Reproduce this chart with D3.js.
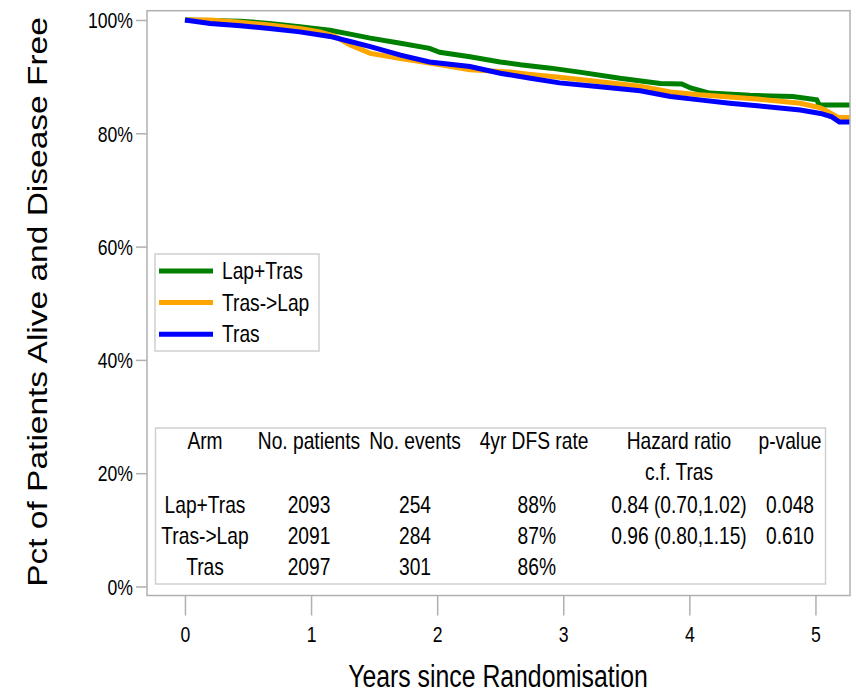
<!DOCTYPE html>
<html>
<head>
<meta charset="utf-8">
<script src="https://cdn.jsdelivr.net/npm/d3@7"></script>
<style>
  html, body { margin: 0; padding: 0; background: #fff; }
  svg { display: block; }
  text { font-family: "Liberation Sans", Arial, sans-serif; fill: #000; }
</style>
</head>
<body>
<svg id="chart" width="856" height="696"></svg>
<script>
// Kaplan-Meier disease-free survival by arm (years, percent alive and disease free)
const arms = ["Lap+Tras", "Tras->Lap", "Tras"];

const lapTrasYears = [0, 0.44, 0.67, 0.91, 1.15, 1.31, 1.47, 1.71, 1.94, 2.02, 2.26, 2.50, 2.66, 2.90, 3.13, 3.45, 3.77, 3.94, 4.01, 4.16, 4.48, 4.82, 5.01, 5.03, 5.28];
const lapTrasPct   = [100, 99.8, 99.4, 98.8, 98.2, 97.5, 96.8, 95.9, 95.0, 94.3, 93.5, 92.6, 92.1, 91.5, 90.8, 89.7, 88.8, 88.7, 88.0, 87.1, 86.7, 86.5, 85.9, 85.0, 85.0];

const trasLapYears = [0, 0.20, 0.44, 0.67, 0.91, 1.07, 1.19, 1.31, 1.47, 1.71, 1.94, 2.26, 2.58, 2.74, 2.97, 3.29, 3.61, 3.85, 4.08, 4.56, 4.88, 5.04, 5.10, 5.18, 5.28];
const trasLapPct   = [100, 100, 99.6, 99.1, 98.5, 97.9, 97.1, 95.6, 94.1, 93.2, 92.4, 91.2, 90.8, 90.4, 89.9, 89.1, 88.3, 87.3, 86.8, 86.0, 85.3, 84.5, 83.8, 82.8, 82.8];

const trasYears = [0, 0.20, 0.44, 0.67, 0.91, 1.15, 1.31, 1.47, 1.71, 1.94, 2.26, 2.50, 2.74, 2.97, 3.29, 3.61, 3.85, 4.08, 4.32, 4.56, 4.88, 5.04, 5.13, 5.19, 5.28];
const trasPct   = [100, 99.4, 99.0, 98.5, 97.9, 97.1, 96.2, 95.3, 93.8, 92.6, 91.8, 90.6, 89.7, 88.9, 88.2, 87.5, 86.5, 85.9, 85.3, 84.8, 84.1, 83.5, 82.9, 82.0, 82.0];

const xTicks = [0, 1, 2, 3, 4, 5];
const yTicks = [0, 20, 40, 60, 80, 100];

// Summary table
const tableHeader = ["Arm", "No. patients", "No. events", "4yr DFS rate", "Hazard ratio", "p-value"];
const tableSubHeader = ["", "", "", "", "c.f. Tras", ""];
const nPatients = [2093, 2091, 2097];
const nEvents = [254, 284, 301];
const dfs4yr = ["88%", "87%", "86%"];
const hazardRatio = ["0.84 (0.70,1.02)", "0.96 (0.80,1.15)", ""];
const pValue = ["0.048", "0.610", ""];

const armColor = d3.scaleOrdinal().domain(arms).range(["#008000", "#ffa500", "#0000ff"]);

const svg = d3.select("#chart");
const frame = { left: 147, right: 850, top: 10.7, bottom: 595.5 };

const x = d3.scaleLinear().domain([-0.301, 5.274]).range([frame.left, frame.right]);
const y = d3.scaleLinear().domain([-1.59, 101.64]).range([frame.bottom, frame.top]);

const SX = 0.8; // horizontal glyph compression

function label(g, px, py, str, size, anchor) {
  return g.append("text")
    .attr("transform", `translate(${px},${py}) scale(${SX},1)`)
    .attr("text-anchor", anchor || "middle")
    .attr("dominant-baseline", "central")
    .style("font-size", size + "px")
    .text(str);
}

// Curves (clipped to the plot frame)
svg.append("clipPath").attr("id", "plotClip")
  .append("rect")
  .attr("x", frame.left).attr("y", frame.top)
  .attr("width", frame.right - frame.left).attr("height", frame.bottom - frame.top);

const series = [
  { arm: arms[0], t: lapTrasYears, s: lapTrasPct },
  { arm: arms[1], t: trasLapYears, s: trasLapPct },
  { arm: arms[2], t: trasYears, s: trasPct }
];

const line = d3.line()
  .x(d => x(d[0]))
  .y(d => y(d[1]))
  .curve(d3.curveLinear);

svg.append("g").attr("clip-path", "url(#plotClip)")
  .selectAll("path")
  .data(series)
  .join("path")
  .attr("fill", "none")
  .attr("stroke", d => armColor(d.arm))
  .attr("stroke-width", 5)
  .attr("stroke-linejoin", "miter")
  .attr("d", d => line(d.t.map((t, i) => [t, d.s[i]])));

// Frame
svg.append("rect")
  .attr("x", frame.left).attr("y", frame.top)
  .attr("width", frame.right - frame.left).attr("height", frame.bottom - frame.top)
  .attr("fill", "none").attr("stroke", "#b0b0b0").attr("stroke-width", 1.5);

// Y axis
const yAxisG = svg.append("g")
  .attr("transform", `translate(${frame.left},0)`)
  .call(d3.axisLeft(y).tickValues(yTicks).tickSize(11).tickFormat(d => d + "%"));
yAxisG.select(".domain").remove();
yAxisG.selectAll(".tick line").attr("stroke", "#b0b0b0").attr("stroke-width", 1.5);
yAxisG.selectAll(".tick text").remove();
yAxisG.selectAll(".tick").each(function (d) {
  label(d3.select(this), -14, 0, d + "%", 22, "end");
});

// X axis
const xAxisG = svg.append("g")
  .attr("transform", `translate(0,${frame.bottom})`)
  .call(d3.axisBottom(x).tickValues(xTicks).tickSize(20).tickFormat(d3.format("d")));
xAxisG.select(".domain").remove();
xAxisG.selectAll(".tick line").attr("stroke", "#b0b0b0").attr("stroke-width", 1.5);
xAxisG.selectAll(".tick text").remove();
xAxisG.selectAll(".tick").each(function (d) {
  label(d3.select(this), 0, 39, String(d), 22, "middle");
});

// Axis titles
label(svg, 498, 677, "Years since Randomisation", 31, "middle");
svg.append("text")
  .attr("transform", `translate(38,302) rotate(-90) scale(1,${SX})`)
  .attr("text-anchor", "middle")
  .attr("dominant-baseline", "central")
  .style("font-size", "33.5px")
  .text("Pct of Patients Alive and Disease Free");

// Legend
const legend = svg.append("g");
legend.append("rect")
  .attr("x", 155).attr("y", 254).attr("width", 164).attr("height", 97)
  .attr("fill", "#fff").attr("stroke", "#d0d0d0").attr("stroke-width", 1.5);
arms.forEach((a, i) => {
  const ly = 271 + i * 31.6;
  legend.append("line")
    .attr("x1", 159).attr("x2", 213).attr("y1", ly).attr("y2", ly)
    .attr("stroke", armColor(a)).attr("stroke-width", 5);
  label(legend, 222, ly, a, 24, "start");
});

// Summary table
const table = svg.append("g");
table.append("rect")
  .attr("x", 155.5).attr("y", 428).attr("width", 670).attr("height", 156)
  .attr("fill", "#fff").attr("stroke", "#d0d0d0").attr("stroke-width", 1.5);

const colCenters = [205, 309, 415, 534, 679, 790];
const headerY = 441, subHeaderY = 472, rowY = [505, 536, 567];

tableHeader.forEach((h, j) => label(table, colCenters[j], headerY, h, 24, "middle"));
tableSubHeader.forEach((h, j) => { if (h) label(table, colCenters[j], subHeaderY, h, 24, "middle"); });

arms.forEach((a, i) => {
  const cells = [a, nPatients[i], nEvents[i], dfs4yr[i], hazardRatio[i], pValue[i]];
  cells.forEach((c, j) => {
    if (c === "") return;
    if (j === 3) label(table, 556, rowY[i], String(c), 24, "end");
    else label(table, colCenters[j], rowY[i], String(c), 24, "middle");
  });
});
</script>
</body>
</html>
